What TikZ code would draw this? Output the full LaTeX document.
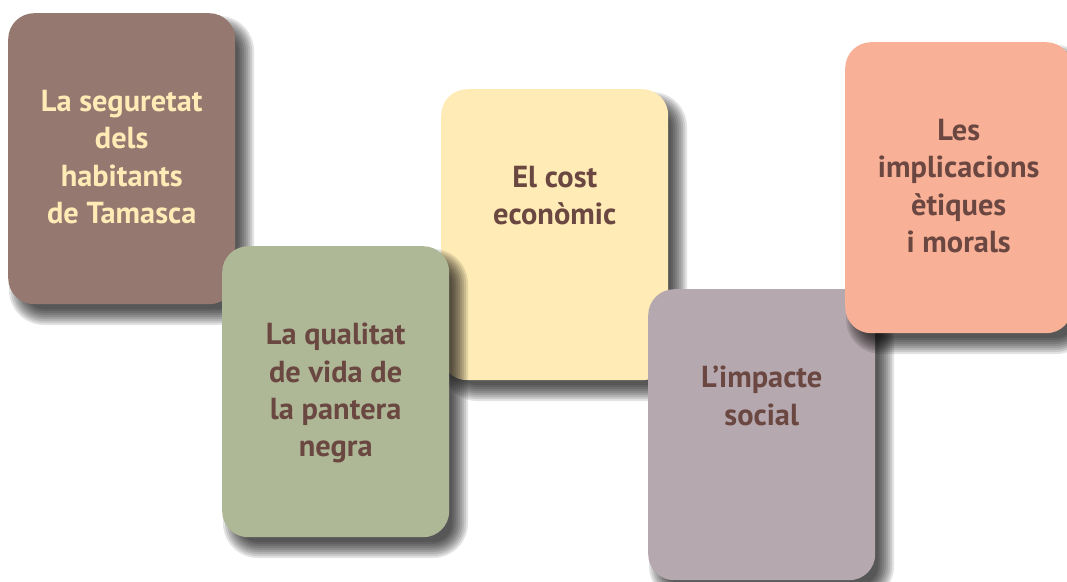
\documentclass[tikz,border=0pt]{standalone}
\usepackage{fontspec}
\setmainfont{PT Sans}
\definecolor{cbrown}{HTML}{957870}
\definecolor{cgreen}{HTML}{AEB896}
\definecolor{cyellow}{HTML}{FEEBB5}
\definecolor{cpurple}{HTML}{B5A8AE}
\definecolor{csalmon}{HTML}{F8B097}
\definecolor{tdark}{HTML}{6B4741}
\definecolor{tlight}{HTML}{FEEBB5}
\tikzset{
  card/.style={rectangle, rounded corners=26pt, minimum width=227pt, minimum height=291pt, inner sep=0pt, draw=none},
  cardtext/.style={align=center, inner sep=0pt, font=\fontsize{30.4}{37.3}\selectfont\bfseries},
}
\newcommand\mycard[6]{%
  \foreach \e in {9,7,...,-7}{%
    \pgfmathsetmacro\xa{#2+10-\e}%
    \pgfmathsetmacro\ya{#3+12-\e}%
    \pgfmathsetmacro\xb{#2+237+\e}%
    \pgfmathsetmacro\yb{#3+303+\e}%
    \pgfmathsetmacro\rc{max(2,26+\e)}%
    \fill[black,opacity=0.11,rounded corners=\rc pt] (\xa,\ya) rectangle (\xb,\yb);
  }
  \node[card, fill=#4, anchor=north west] (#1) at (#2,#3) {};
  \node[cardtext, text=#5, anchor=north] (#1-t) at ([yshift=-77pt]#1.north) {#6};
}
\begin{document}
\begin{tikzpicture}[x=1pt,y=-1pt]
\fill[white] (0,0) rectangle (1067,581);
\useasboundingbox (0,0) rectangle (1067,581);
\mycard{a}{8}{13}{cbrown}{tlight}{La seguretat\\dels\\habitants\\de Tamasca}
\mycard{c}{441}{89}{cyellow}{tdark}{El cost\\econòmic}
\mycard{b}{222}{246}{cgreen}{tdark}{La qualitat\\de vida de\\la pantera\\negra}
\mycard{d}{648}{289}{cpurple}{tdark}{L’impacte\\social}
\mycard{e}{845}{42}{csalmon}{tdark}{Les\\implicacions\\ètiques\\i morals}
\end{tikzpicture}
\end{document}
